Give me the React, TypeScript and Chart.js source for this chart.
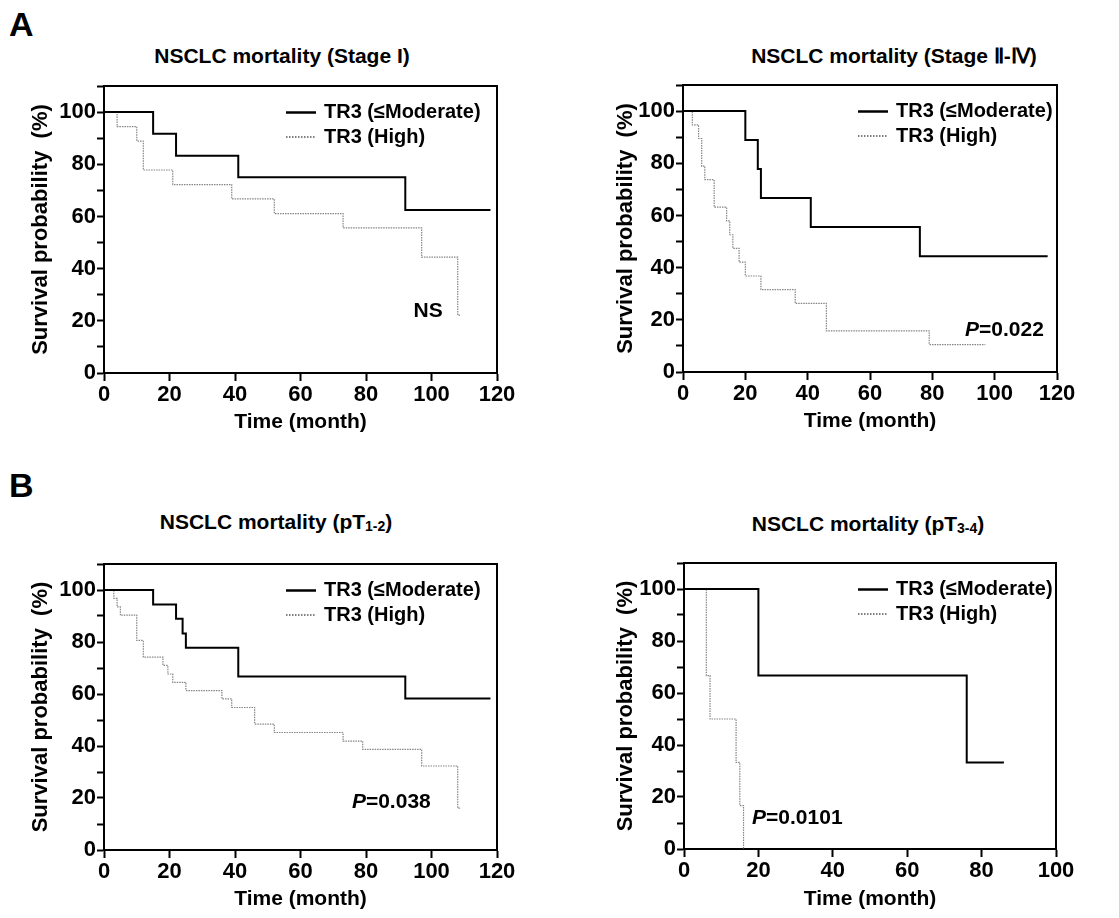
import React, { useEffect, useRef } from 'react';
import { Chart, registerables } from 'chart.js';

Chart.register(...registerables);

const FONT = '"Liberation Sans", Arial, Helvetica, sans-serif';

// ---------- data ----------
const seriesLabels = ['TR3 (≤Moderate)', 'TR3 (High)'];
const xTitle = 'Time (month)';
const yTitle = 'Survival probability  (%)';
const yTickLabels = [0, 20, 40, 60, 80, 100];
const xTicks120 = [0, 20, 40, 60, 80, 100, 120];
const xTicks100 = [0, 20, 40, 60, 80, 100];

// A: Stage I
const stageIModTime = [0, 15, 22, 41, 92, 118];
const stageIModSurv = [100, 91.7, 83.3, 75.0, 62.5, 62.5];
const stageIHighTime = [0, 4, 10, 12, 21, 39, 52, 73, 97, 108, 109];
const stageIHighSurv = [100, 94.4, 88.9, 77.8, 72.2, 66.7, 61.1, 55.6, 44.4, 22.2, 22.2];

// A: Stage II-IV
const stageIIModTime = [0, 20, 24, 25, 41, 76, 117];
const stageIIModSurv = [100, 88.9, 77.8, 66.7, 55.6, 44.4, 44.4];
const stageIIHighTime = [0, 3, 5, 6, 7, 10, 14, 15, 16, 18, 20, 25, 36, 46, 79, 97];
const stageIIHighSurv = [100, 94.7, 89.5, 78.9, 73.7, 63.2, 57.9, 52.6, 47.4, 42.1, 36.8, 31.6, 26.3, 15.8, 10.5, 10.5];

// B: pT1-2
const pT12ModTime = [0, 15, 22, 24, 25, 41, 92, 118];
const pT12ModSurv = [100, 94.4, 88.9, 83.3, 77.8, 66.7, 58.3, 58.3];
const pT12HighTime = [0, 3, 4, 5, 10, 12, 18, 19.5, 21, 25, 36, 39, 46, 52, 73, 79, 97, 108, 109];
const pT12HighSurv = [100, 96.8, 93.5, 90.3, 80.6, 74.2, 71.0, 67.7, 64.5, 61.3, 58.1, 54.8, 48.4, 45.2, 41.9, 38.7, 32.3, 16.1, 16.1];

// B: pT3-4
const pT34ModTime = [0, 20, 76, 86];
const pT34ModSurv = [100, 66.7, 33.3, 33.3];
const pT34HighTime = [0, 6, 7, 14, 15, 16];
const pT34HighSurv = [100, 66.7, 50, 33.3, 16.7, 0];

type Panel = {
  modT: number[]; modS: number[]; highT: number[]; highS: number[];
  xTicks: number[];
  noteItalic: string; note: string; noteX: number; noteY: number;
  canvas: { left: number; top: number; w: number; h: number };
  area: { left: number; top: number; right: number; bottom: number };
  xTitlePad: number;
  legendDx: number;
};

const panels: Panel[] = [
  {
    modT: stageIModTime, modS: stageIModSurv, highT: stageIHighTime, highS: stageIHighSurv,
    xTicks: xTicks120, noteItalic: '', note: 'NS', noteX: 94.5, noteY: 23.5,
    canvas: { left: 0, top: 70, w: 540, h: 380 },
    area: { left: 104, top: 86, right: 497, bottom: 373 },
    xTitlePad: 15, legendDx: 182,
  },
  {
    modT: stageIIModTime, modS: stageIIModSurv, highT: stageIIHighTime, highS: stageIIHighSurv,
    xTicks: xTicks120, noteItalic: 'P', note: '=0.022', noteX: 90.5, noteY: 16.2,
    canvas: { left: 585, top: 70, w: 534, h: 380 },
    area: { left: 683, top: 85, right: 1057, bottom: 372 },
    xTitlePad: 16, legendDx: 175,
  },
  {
    modT: pT12ModTime, modS: pT12ModSurv, highT: pT12HighTime, highS: pT12HighSurv,
    xTicks: xTicks120, noteItalic: 'P', note: '=0.038', noteX: 75.7, noteY: 18.5,
    canvas: { left: 0, top: 548, w: 540, h: 370 },
    area: { left: 104, top: 564, right: 497, bottom: 850 },
    xTitlePad: 6, legendDx: 182,
  },
  {
    modT: pT34ModTime, modS: pT34ModSurv, highT: pT34HighTime, highS: pT34HighSurv,
    xTicks: xTicks100, noteItalic: 'P', note: '=0.0101', noteX: 18.3, noteY: 11.9,
    canvas: { left: 585, top: 548, w: 534, h: 370 },
    area: { left: 684, top: 563, right: 1056, bottom: 849 },
    xTitlePad: 6, legendDx: 174,
  },
];

const MOD_COLOR = '#000000';
const HIGH_COLOR = '#858585';

function KMPanel({ p }: { p: Panel }) {
  const ref = useRef<HTMLCanvasElement | null>(null);
  useEffect(() => {
    if (!ref.current) return;
    const yAxisW = p.area.left - p.canvas.left;
    const padTop = p.area.top - p.canvas.top;
    const padRight = p.canvas.left + p.canvas.w - p.area.right;
    const xAxisH = p.canvas.top + p.canvas.h - p.area.bottom;
    const xMax = p.xTicks[p.xTicks.length - 1];

    const framePlugin = {
      id: 'kmFrame',
      afterDraw(chart: any) {
        const { ctx, chartArea } = chart;
        ctx.save();
        ctx.strokeStyle = '#000';
        ctx.lineWidth = 2;
        ctx.beginPath();
        ctx.moveTo(chartArea.left - 1, chartArea.top);
        ctx.lineTo(chartArea.right, chartArea.top);
        ctx.lineTo(chartArea.right, chartArea.bottom + 1);
        ctx.stroke();
        ctx.restore();
      },
    };

    const legendPlugin = {
      id: 'kmLegend',
      afterDraw(chart: any) {
        const { ctx, chartArea } = chart;
        const x0 = chartArea.left + p.legendDx;
        const rows = [chartArea.top + 26.5, chartArea.top + 51];
        ctx.save();
        chart.data.datasets.forEach((ds: any, i: number) => {
          const y = rows[i];
          ctx.beginPath();
          ctx.strokeStyle = i === 0 ? '#000' : '#555';
          ctx.lineWidth = i === 0 ? 2.5 : 1.5;
          ctx.setLineDash(i === 0 ? [] : [1.5, 1.5]);
          ctx.moveTo(x0, y);
          ctx.lineTo(x0 + 30, y);
          ctx.stroke();
          ctx.setLineDash([]);
          ctx.fillStyle = '#000';
          ctx.font = `bold 20px ${FONT}`;
          ctx.textBaseline = 'middle';
          ctx.textAlign = 'left';
          ctx.fillText(ds.label, x0 + 38, y);
        });
        ctx.restore();
      },
    };

    const notePlugin = {
      id: 'kmNote',
      afterDraw(chart: any) {
        const { ctx, scales } = chart;
        let x = scales.x.getPixelForValue(p.noteX);
        const y = scales.y.getPixelForValue(p.noteY);
        ctx.save();
        ctx.fillStyle = '#000';
        ctx.textBaseline = 'middle';
        ctx.textAlign = 'left';
        if (p.noteItalic) {
          ctx.font = `italic bold 21px ${FONT}`;
          ctx.fillText(p.noteItalic, x, y);
          x += ctx.measureText(p.noteItalic).width;
        }
        ctx.font = `bold 21px ${FONT}`;
        ctx.fillText(p.note, x, y);
        ctx.restore();
      },
    };

    const chart = new Chart(ref.current, {
      type: 'line',
      data: {
        datasets: [
          {
            label: seriesLabels[0],
            data: p.modT.map((t, i) => ({ x: t, y: p.modS[i] })),
            borderColor: MOD_COLOR,
            borderWidth: 2,
            stepped: 'before',
            pointRadius: 0,
            fill: false,
          },
          {
            label: seriesLabels[1],
            data: p.highT.map((t, i) => ({ x: t, y: p.highS[i] })),
            borderColor: HIGH_COLOR,
            borderWidth: 1.2,
            borderDash: [1.5, 1],
            stepped: 'before',
            pointRadius: 0,
            fill: false,
          },
        ],
      },
      options: {
        responsive: false,
        maintainAspectRatio: false,
        animation: false,
        events: [],
        layout: { padding: { left: 0, top: padTop, right: padRight, bottom: 0 } },
        plugins: { legend: { display: false }, tooltip: { enabled: false } },
        scales: {
          x: {
            type: 'linear',
            min: 0,
            max: xMax,
            afterBuildTicks: (s: any) => { s.ticks = p.xTicks.map((v) => ({ value: v })); },
            ticks: {
              autoSkip: false,
              maxRotation: 0,
              padding: 1,
              color: '#000',
              font: { family: FONT, size: 22, weight: 'bold' },
            },
            grid: { drawOnChartArea: false, drawTicks: true, tickLength: 8, tickWidth: 2, tickColor: '#000' },
            border: { display: true, color: '#000', width: 2 },
            title: {
              display: true,
              text: xTitle,
              color: '#000',
              font: { family: FONT, size: 21, weight: 'bold' },
              padding: { top: 0, bottom: p.xTitlePad },
            },
            afterFit: (s: any) => { s.height = xAxisH; },
          },
          y: {
            type: 'linear',
            min: 0,
            max: 110,
            ticks: {
              stepSize: 10,
              autoSkip: false,
              padding: 1,
              color: '#000',
              font: { family: FONT, size: 22, weight: 'bold' },
              callback: (v: any) => (yTickLabels.includes(Number(v)) ? String(v) : ''),
            },
            grid: { drawOnChartArea: false, drawTicks: true, tickLength: 7, tickWidth: 2, tickColor: '#000' },
            border: { display: true, color: '#000', width: 2 },
            title: {
              display: true,
              text: yTitle,
              color: '#000',
              font: { family: FONT, size: 22, weight: 'bold' },
              padding: { top: 27.8, bottom: 0 },
            },
            afterFit: (s: any) => { s.width = yAxisW; },
          },
        },
      } as any,
      plugins: [framePlugin, legendPlugin, notePlugin],
    } as any);
    return () => chart.destroy();
  }, [p]);

  return (
    <canvas
      ref={ref}
      width={p.canvas.w}
      height={p.canvas.h}
      style={{ position: 'absolute', left: p.canvas.left, top: p.canvas.top, width: p.canvas.w, height: p.canvas.h }}
    />
  );
}

const titleStyle = (cx: number, cy: number): React.CSSProperties => ({
  position: 'absolute',
  left: cx,
  top: cy,
  transform: 'translate(-50%, -50%)',
  whiteSpace: 'nowrap',
  fontFamily: FONT,
  fontWeight: 'bold',
  fontSize: 21,
  lineHeight: 1,
  color: '#000',
});

const letterStyle = (top: number): React.CSSProperties => ({
  position: 'absolute',
  left: 9,
  top,
  fontFamily: FONT,
  fontWeight: 'bold',
  fontSize: 34,
  lineHeight: 1,
  color: '#000',
});

const subStyle: React.CSSProperties = { fontSize: 14, verticalAlign: -2 };

export default function App() {
  return (
    <div style={{ position: 'absolute', left: 0, top: 0, width: 1119, height: 918, background: '#fff', overflow: 'hidden' }}>
      <div style={letterStyle(7)}>A</div>
      <div style={letterStyle(468)}>B</div>
      <div style={titleStyle(282, 55)}>NSCLC mortality (Stage I)</div>
      <div style={titleStyle(894, 55)}>NSCLC mortality (Stage Ⅱ-Ⅳ)</div>
      <div style={titleStyle(276, 522)}>
        NSCLC mortality (pT<span style={subStyle}>1-2</span>)
      </div>
      <div style={titleStyle(868, 524)}>
        NSCLC mortality (pT<span style={subStyle}>3-4</span>)
      </div>
      {panels.map((p, i) => (
        <KMPanel key={i} p={p} />
      ))}
    </div>
  );
}
